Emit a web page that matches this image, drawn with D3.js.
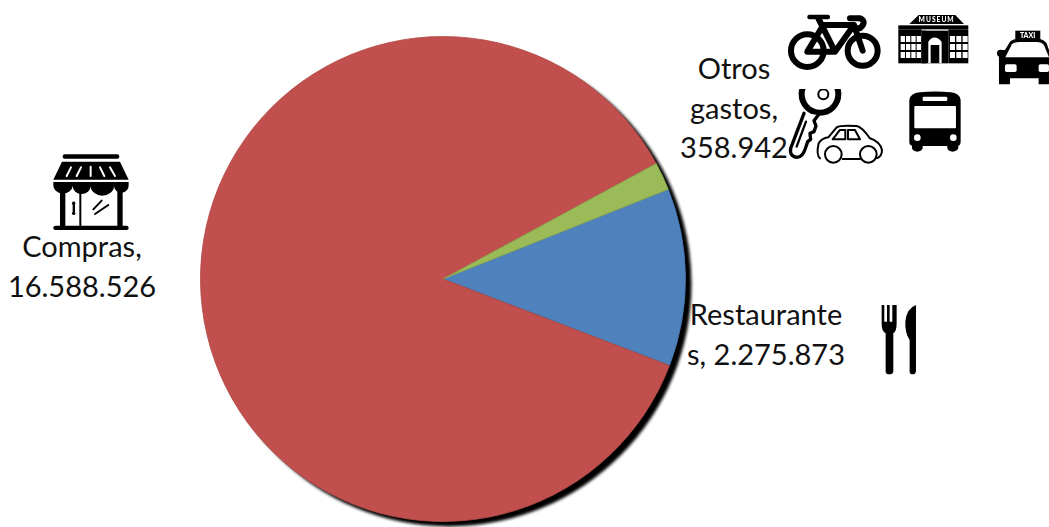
<!DOCTYPE html>
<html><head><meta charset="utf-8">
<script src="https://cdn.jsdelivr.net/npm/d3@7"></script>
<style>html,body{margin:0;padding:0;background:#fff;overflow:hidden}svg{display:block}text{font-family:Lato,"Open Sans",sans-serif;fill:#111}</style>
</head><body><svg id="c" width="1049" height="527"></svg>
<script>
const categories=["Restaurantes","Compras","Otros gastos"];
const values=[2275873,16588526,358942];
const colours=["#4F81BD","#C0504D","#9BBB59"];
const labelLines=[["Restaurante","s, 2.275.873"],["Compras,","16.588.526"],["Otros","gastos,","358.942"]];
const labelPos=[[766,325],[82,257],[734,79]];
const svg=d3.select("#c");
const defs=svg.append("defs");
defs.append("filter").attr("id","sh").attr("x","-5%").attr("y","-5%").attr("width","110%").attr("height","110%")
 .append("feGaussianBlur").attr("stdDeviation",1.4);
defs.append("filter").attr("id","soft").attr("x","-5%").attr("y","-5%").attr("width","110%").attr("height","110%")
 .append("feGaussianBlur").attr("stdDeviation",0.6);
const cx=443,cy=279,R=242.5;
const pie=d3.pie().value(d=>d).sort(null).startAngle(68.3*Math.PI/180).endAngle((68.3+360)*Math.PI/180);
const arc=d3.arc().innerRadius(0).outerRadius(R);
const g=svg.append("g").attr("transform",`translate(${cx},${cy})`);
g.append("path").attr("d",arc({startAngle:0,endAngle:2*Math.PI}))
 .attr("transform","translate(6,5)").attr("fill","#000").attr("filter","url(#sh)");
g.append("g").attr("filter","url(#soft)").selectAll("path.s").data(pie(values)).join("path").attr("class","s").attr("d",arc)
 .attr("fill",(d,i)=>colours[i]).attr("stroke",(d,i)=>d3.color(colours[i]).darker(0.25)).attr("stroke-width",0.8);

labelLines.forEach((ls,i)=>{
  const t=svg.append("text").attr("text-anchor","middle").attr("font-size",29);
  ls.forEach((s,j)=>t.append("tspan").attr("x",labelPos[i][0]).attr("y",labelPos[i][1]+j*39.5).text(s));
});

function rect(p,x,y,w,h,f="#000",r=0){return p.append("rect").attr("x",x).attr("y",y).attr("width",w).attr("height",h).attr("fill",f).attr("rx",r);}
function path(p,d,f="#000",s="none",w=0){return p.append("path").attr("d",d).attr("fill",f).attr("stroke",s).attr("stroke-width",w).attr("stroke-linecap","round").attr("stroke-linejoin","round");}
function circ(p,x,y,r,f="#000",s="none",w=0){return p.append("circle").attr("cx",x).attr("cy",y).attr("r",r).attr("fill",f).attr("stroke",s).attr("stroke-width",w);}

// top-right icons, drawn in 3x local units
const tr=svg.append("g").attr("transform","translate(680,0) scale(0.3333)").attr("filter","url(#soft)");
// bicycle
circ(tr,382,152,49,"none","#000",18);circ(tr,548,152,45,"none","#000",18);
path(tr,"M382,155 L430,75 H522 L465,155 H382 M415,55 L465,155 M522,75 L548,152 M510,55 H540 Q562,65 540,85 H528","none","#000",18);
rect(tr,382,44,68,14,"#000",6);
// museum
path(tr,"M688,72 L716,45 H826 L852,72 Z");
tr.append("text").attr("x",770).attr("y",67).attr("text-anchor","middle").attr("font-size",20).attr("font-weight",900).attr("letter-spacing",3).style("fill","#fff").text("MUSEUM");
rect(tr,655,76,210,12);
rect(tr,655,88,70,102);rect(tr,805,88,60,102);rect(tr,725,92,80,98);
d3.range(3).forEach(r=>{
 d3.range(4).forEach(c=>rect(tr,662+c*16,108+r*24,13,18,"#fff"));
 d3.range(3).forEach(c=>rect(tr,810+c*19,108+r*24,15,18,"#fff"));
});
path(tr,"M745,190 V125 Q763,100 785,125 V190 H778 V135 H752 V190 Z","#fff");
rect(tr,725,92,14,98,"#000");
// taxi
const taxi=tr.append("g");
rect(taxi,1006,92,75,27);
taxi.append("text").attr("x",1043).attr("y",114).attr("text-anchor","middle").attr("font-size",21).attr("font-weight",900).style("fill","#fff").text("TAXI");
path(taxi,"M957,150 h18 L990,125 Q1000,116 1020,116 H1070 Q1092,116 1100,130 L1107,150 V253 H1076 V235 H990 V253 H957 Z");
circ(taxi,962,160,11);
path(taxi,"M976,172 L996,133 Q1003,126 1020,126 H1070 Q1085,126 1092,135 L1107,172 Z","#fff");
rect(taxi,975,193,35,23,"#fff",5);rect(taxi,1076,193,31,23,"#fff",5);
// bus
path(tr,"M688,300 Q690,280 720,277 Q765,272 812,277 Q840,280 842,300 V425 Q842,435 835,437 V445 Q830,455 818,455 Q806,455 802,445 V438 H728 V445 Q724,455 712,455 Q700,455 696,445 V437 Q688,435 688,425 Z");
rect(tr,703,318,125,67,"#fff",3);rect(tr,728,290,74,13,"#fff",4);
circ(tr,712,413,10,"#fff");circ(tr,820,413,10,"#fff");
// key
defs.append("clipPath").attr("id","kc").append("rect").attr("x",300).attr("y",267).attr("width",220).attr("height",240);
const key=tr.append("g").attr("clip-path","url(#kc)");
circ(key,420,283,55,"#fff","#000",18);
circ(key,430,283,15,"#fff","#000",6);
path(key,"M372,340 L332,445 Q328,470 352,472 Q370,470 378,440 L383,425 L392,418 L390,400 L402,395 L408,378 L402,362 L415,345","#fff","#000",10);
path(key,"M378,365 L350,440","none","#000",7);
// small car
path(tr,"M420,475 Q408,465 416,430 Q425,415 445,412 L470,382 Q480,375 530,378 Q545,380 570,415 Q600,425 606,450 Q606,470 590,475 M488,477 H540","none","#000",6);
circ(tr,460,463,25,"#fff","#000",6);circ(tr,565,463,25,"#fff","#000",6);
path(tr,"M458,418 L480,390 H496 V418 Z M504,390 H525 L540,418 H504 Z","none","#000",6);

// shop
const sh=svg.append("g").attr("transform","translate(0,140) scale(0.3333)").attr("filter","url(#soft)");
rect(sh,188,43,170,13,"#000",6);
path(sh,"M186,65 H360 L386,119 H160 Z");
[[213,82,200,108],[243,82,230,108],[272,80,272,108],[300,82,313,108],[330,82,345,108]].forEach(s=>path(sh,`M${s[0]},${s[1]} L${s[2]},${s[3]}`,"none","#fff",6));
path(sh,"M160,126 H386 V135 A22,22 0 0 1 342,138 A29,24 0 0 1 272,138 A27,24 0 0 1 218,138 A29,24 0 0 1 160,135 Z");
rect(sh,180,150,16,110);rect(sh,352,150,16,110);rect(sh,238,150,6,110);
rect(sh,160,257,226,13,"#000",6);
rect(sh,218,185,7,38);circ(sh,221,190,5);circ(sh,221,220,5);
path(sh,"M280,208 L305,182 M285,222 L325,195","none","#000",6);

// cutlery
const ct=svg.append("g").attr("transform","translate(640,290) scale(0.3333)").attr("filter","url(#soft)");
path(ct,"M725,45 H733 V95 H741 V45 H749 V95 H757 V45 H770 V100 Q770,125 760,130 V245 Q758,253 748,253 Q738,253 737,245 V130 Q725,125 725,100 Z");
path(ct,"M828,45 V245 Q826,253 818,253 Q810,253 809,245 V150 Q795,130 796,95 Q800,55 828,45 Z");
</script></body></html>
